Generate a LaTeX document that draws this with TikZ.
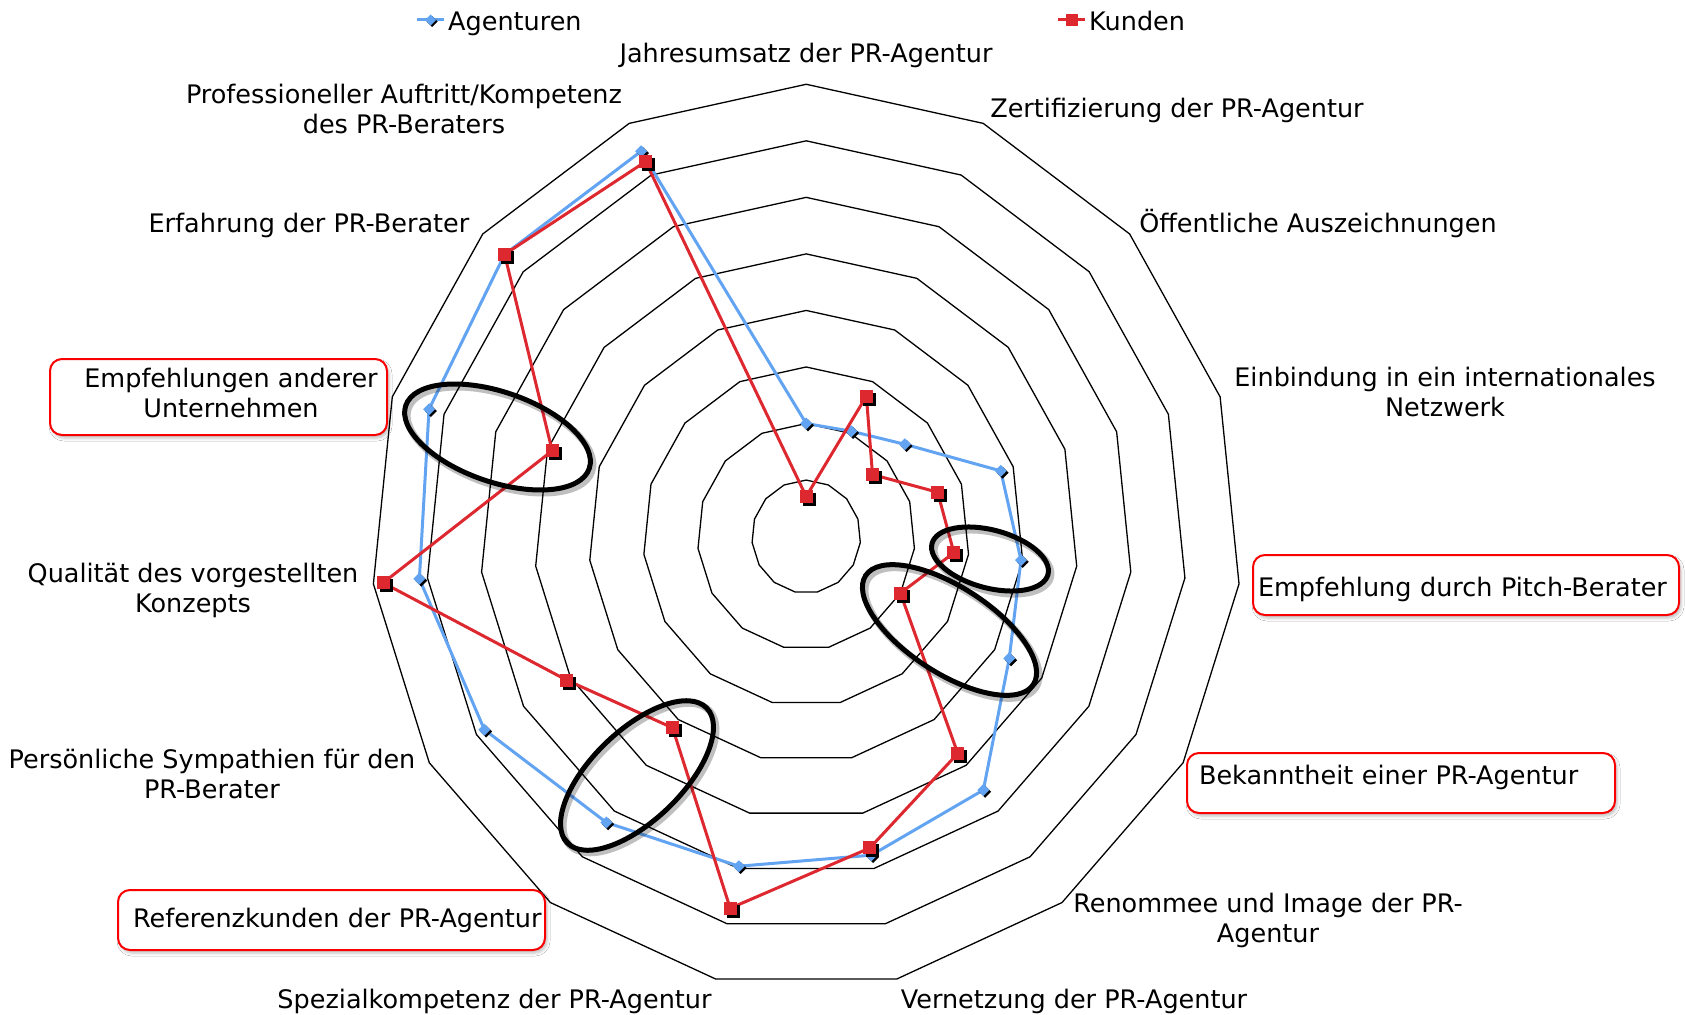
\documentclass[tikz,border=0pt]{standalone}
\usepackage{fontspec}
\setmainfont{DejaVu Sans}
\usetikzlibrary{shadows.blur}
\definecolor{agblue}{RGB}{98,164,242}
\definecolor{kured}{RGB}{222,40,48}
\definecolor{boxred}{RGB}{250,0,0}
\begin{document}
\begin{tikzpicture}[x=1pt,y=-1pt,
  lbl/.style={font=\fontsize{25.5}{30}\selectfont, inner sep=0pt, align=center},
  redbox/.style={draw=boxred, line width=2pt, rounded corners=12pt, fill=white,
    blur shadow={shadow xshift=2pt, shadow yshift=-3pt, shadow blur radius=3pt, shadow opacity=25},
    font=\fontsize{25.5}{30}\selectfont, inner sep=0pt},
  ring/.style={draw=black, line width=1.3pt},
  bline/.style={agblue, line width=3pt, line join=round},
  rline/.style={kured, line width=3pt, line join=round},
  hl/.style={black, line width=5pt},
  hlshadow/.style={black, opacity=0.25, line width=7pt},
]
\useasboundingbox (0,0) rectangle (1685,1014);
\fill[white] (0,0) rectangle (1685,1014);

% rings and data coordinates
\begin{scope}[shift={(806.2,536.6)}, x={(54.4pt,0pt)}, y={(0pt,56.54pt)}]
  \foreach \k in {1,...,8}{
    \draw[ring] (90:\k) \foreach \j in {1,...,14}{ -- ({90-24*\j}:\k) } -- cycle;
  }
  \foreach \r [count=\i from 0] in {2.00,2.04,2.44,3.76,3.97,4.31,5.54,5.76,5.96,6.25,6.83,7.15,7.29,7.46,7.46}{
    \coordinate (a\i) at ({90-24*\i}:\r);
  }
  \foreach \r [count=\i from 0] in {0.71,2.72,1.64,2.54,2.73,2.00,4.74,5.63,6.72,4.18,5.08,7.82,4.91,7.46,7.26}{
    \coordinate (k\i) at ({90-24*\i}:\r);
  }
\end{scope}

% Agenturen series
\draw[bline] (a0) \foreach \i in {1,...,14}{ -- (a\i) } -- cycle;
\foreach \i in {0,...,14}{
  \fill[black] (a\i) ++(1.8pt,-1.8pt) +(6pt,0pt) -- +(0pt,6pt) -- +(-6pt,0pt) -- +(0pt,-6pt) -- cycle;
  \fill[agblue] (a\i) +(6pt,0pt) -- +(0pt,6pt) -- +(-6pt,0pt) -- +(0pt,-6pt) -- cycle;
}
% Kunden series
\draw[rline] (k0) \foreach \i in {1,...,14}{ -- (k\i) } -- cycle;
\foreach \i in {0,...,14}{
  \fill[black] (k\i) ++(3pt,-3pt) +(-6.5pt,-6.5pt) rectangle +(6.5pt,6.5pt);
  \fill[kured] (k\i) +(-6.5pt,-6.5pt) rectangle +(6.5pt,6.5pt);
}

% highlight ellipses
\draw[hlshadow, shift={(500,440)}, rotate=-19] (0,0) ellipse [x radius=97pt, y radius=45pt];
\draw[hl, shift={(497.5,437)}, rotate=-19] (0,0) ellipse [x radius=97pt, y radius=45pt];
\draw[hlshadow, shift={(992.5,562)}, rotate=-15] (0,0) ellipse [x radius=60pt, y radius=29pt];
\draw[hl, shift={(990,559)}, rotate=-15] (0,0) ellipse [x radius=60pt, y radius=29pt];
\draw[hlshadow, shift={(952,633)}, rotate=-33] (0,0) ellipse [x radius=100pt, y radius=43pt];
\draw[hl, shift={(949.5,630)}, rotate=-33] (0,0) ellipse [x radius=100pt, y radius=43pt];
\draw[hlshadow, shift={(639.5,778)}, rotate=44] (0,0) ellipse [x radius=97pt, y radius=45pt];
\draw[hl, shift={(637,775.5)}, rotate=44] (0,0) ellipse [x radius=97pt, y radius=45pt];

% legend
\coordinate (lgA1) at (417,20);
\coordinate (lgA2) at (444,20);
\coordinate (lgAm) at (430.5,20);
\draw[bline] (lgA1) -- (lgA2);
\fill[black] (lgAm) ++(1.5pt,-1.5pt) +(5.5pt,0pt) -- +(0pt,5.5pt) -- +(-5.5pt,0pt) -- +(0pt,-5.5pt) -- cycle;
\fill[agblue] (lgAm) +(5.5pt,0pt) -- +(0pt,5.5pt) -- +(-5.5pt,0pt) -- +(0pt,-5.5pt) -- cycle;
\node[lbl, anchor=west] (legA) at (448,23.5) {Agenturen};
\coordinate (lgK1) at (1058,20);
\coordinate (lgK2) at (1085,20);
\coordinate (lgKm) at (1071.5,20);
\draw[rline] (lgK1) -- (lgK2);
\fill[kured] (lgKm) +(-6pt,-6pt) rectangle +(6pt,6pt);
\node[lbl, anchor=west] (legK) at (1089,21) {Kunden};

% axis labels
\node[lbl] (l0) at (806,55) {Jahresumsatz der PR-Agentur};
\node[lbl] (l1) at (1177,110.5) {Zertifizierung der PR-Agentur};
\node[lbl] (l2) at (1318,223.5) {Öffentliche Auszeichnungen};
\node[lbl] (l3) at (1445,392) {Einbindung in ein internationales\\Netzwerk};
\node[redbox, anchor=north west, text width=416pt, inner xsep=5pt, inner ysep=0pt, text height=41pt, text depth=19pt, align=left] (l4) at (1252,554) {\mbox{Empfehlung durch Pitch-Berater}};
\node[redbox, anchor=north west, text width=404pt, inner xsep=12pt, inner ysep=0pt, text height=31pt, text depth=29pt, align=left] (l5) at (1186,752) {\mbox{Bekanntheit einer PR-Agentur}};
\node[lbl] (l6) at (1268,920) {Renommee und Image der PR-\\Agentur};
\node[lbl] (l7) at (1074,1001) {Vernetzung der PR-Agentur};
\node[lbl] (l8) at (494.5,1001) {Spezialkompetenz der PR-Agentur};
\node[redbox, anchor=north west, minimum height=60pt, text width=397pt, inner xsep=15pt, align=left] (l9) at (117,889) {\mbox{Referenzkunden der PR-Agentur}};
\node[lbl] (l10) at (212,774) {Persönliche Sympathien für den\\PR-Berater};
\node[lbl] (l11) at (193,590) {Qualität des vorgestellten\\Konzepts};
\node[redbox, anchor=north west, minimum width=337pt, minimum height=76pt, align=center] (l12) at (49,358) {\hspace*{25pt}Empfehlungen anderer\\\hspace*{25pt}Unternehmen\rule[-8pt]{0pt}{0pt}};
\node[lbl] (l13) at (309,225.5) {Erfahrung der PR-Berater};
\node[lbl] (l14) at (404,108.5) {Professioneller Auftritt/Kompetenz\\des PR-Beraters};
\end{tikzpicture}
\end{document}
